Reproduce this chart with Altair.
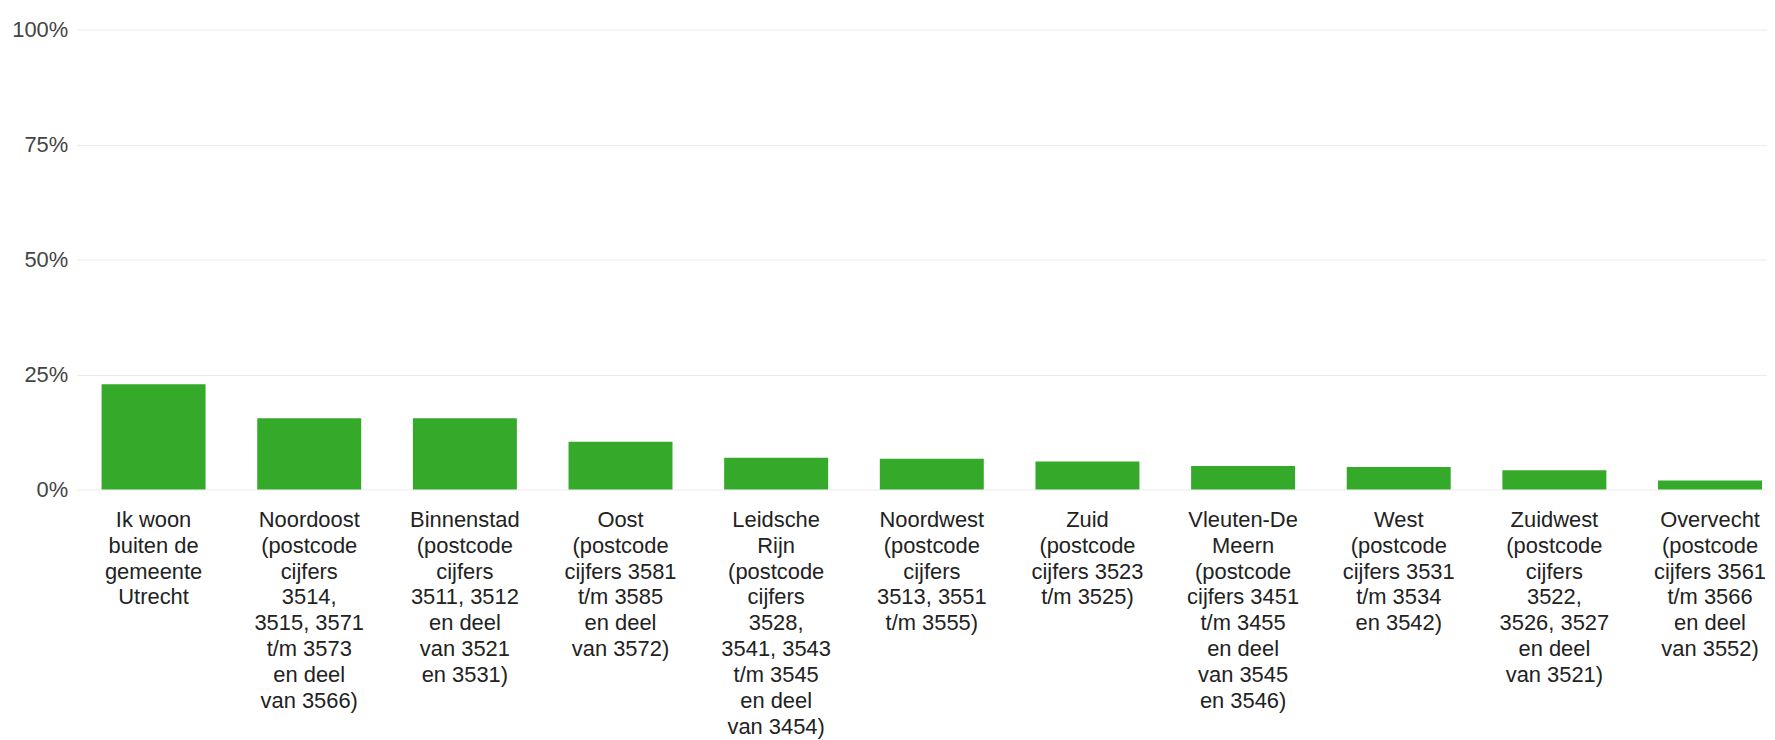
import altair as alt
import pandas as pd

label_lines = [
    ["Ik woon", "buiten de", "gemeente", "Utrecht"],
    ["Noordoost", "(postcode", "cijfers", "3514,", "3515, 3571", "t/m 3573", "en deel", "van 3566)"],
    ["Binnenstad", "(postcode", "cijfers", "3511, 3512", "en deel", "van 3521", "en 3531)"],
    ["Oost", "(postcode", "cijfers 3581", "t/m 3585", "en deel", "van 3572)"],
    ["Leidsche", "Rijn", "(postcode", "cijfers", "3528,", "3541, 3543", "t/m 3545", "en deel", "van 3454)"],
    ["Noordwest", "(postcode", "cijfers", "3513, 3551", "t/m 3555)"],
    ["Zuid", "(postcode", "cijfers 3523", "t/m 3525)"],
    ["Vleuten-De", "Meern", "(postcode", "cijfers 3451", "t/m 3455", "en deel", "van 3545", "en 3546)"],
    ["West", "(postcode", "cijfers 3531", "t/m 3534", "en 3542)"],
    ["Zuidwest", "(postcode", "cijfers", "3522,", "3526, 3527", "en deel", "van 3521)"],
    ["Overvecht", "(postcode", "cijfers 3561", "t/m 3566", "en deel", "van 3552)"],
]
shares = [0.229, 0.155, 0.155, 0.104, 0.069, 0.067, 0.061, 0.051, 0.049, 0.042, 0.0195]
y_ticks = [0, 0.25, 0.5, 0.75, 1.0]

categories = ["|".join(l) for l in label_lines]
df = pd.DataFrame({"category": categories, "share": shares})

chart = alt.Chart(df).mark_bar(color="#34a92a").encode(
    x=alt.X(
        "category:N",
        sort=categories,
        scale=alt.Scale(range=[0, 1718], paddingInner=0.332, paddingOuter=0.16),
        axis=alt.Axis(
            title=None,
            labelAngle=0,
            labelExpr="split(datum.label, '|')",
            labelFont="Liberation Sans",
            labelFontSize=22,
            labelLineHeight=26,
            labelColor="#222222",
            labelBaseline="top",
            labelPadding=20,
            labelLimit=0,
            ticks=False,
            domain=False,
            grid=False,
        ),
    ),
    y=alt.Y(
        "share:Q",
        scale=alt.Scale(domain=[0, 1]),
        axis=alt.Axis(
            title=None,
            values=y_ticks,
            format=".0%",
            labelFont="Liberation Sans",
            labelFontSize=22,
            labelColor="#444444",
            labelPadding=9,
            ticks=False,
            domain=False,
            gridColor="#ebebeb",
            gridWidth=1,
        ),
    ),
).properties(
    width=1698,
    height=462,
    padding={"left": 69, "top": 20, "right": 0, "bottom": 252},
    autosize=alt.AutoSizeParams(type="none"),
).configure_view(stroke=None)

chart.save("out.html", embed_options={"renderer": "svg", "actions": False})
